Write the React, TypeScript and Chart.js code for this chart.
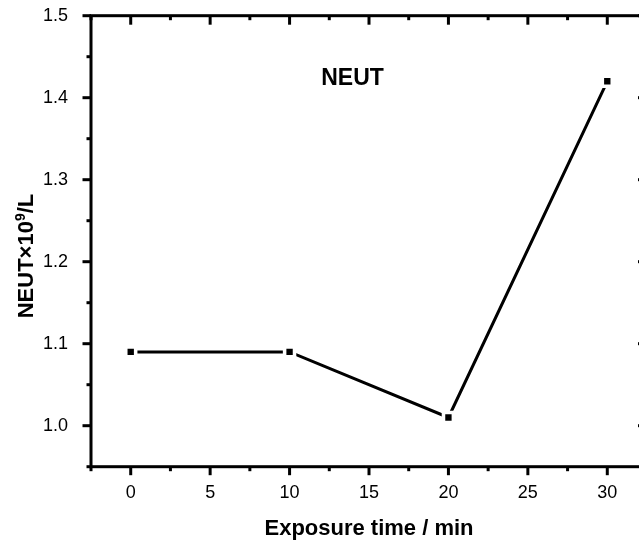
import React, { useEffect, useRef } from "react";
import { Chart, registerables } from "chart.js";

Chart.register(...registerables);

const exposureTimes = [0, 10, 20, 30];
const neutValues = [1.09, 1.09, 1.01, 1.42];
const xMajorTicks = [0, 5, 10, 15, 20, 25, 30];
const xMinorTicks = [-2.5, 2.5, 7.5, 12.5, 17.5, 22.5, 27.5, 32.5];
const yMajorTicks = [1.0, 1.1, 1.2, 1.3, 1.4, 1.5];
const yMinorTicks = [0.95, 1.05, 1.15, 1.25, 1.35, 1.45];
const xRange = [-2.5, 32.5];
const yRange = [0.95, 1.5];
const xTitle = "Exposure time / min";
const yTitleParts = ["NEUT×10", "9", "/L"];
const panelLabel = "NEUT";

const FONT = "'Liberation Sans', Arial, sans-serif";

const framePlugin = {
  id: "frame",
  afterDraw(chart: any) {
    const { ctx, chartArea: a, scales } = chart;
    const xs = scales.x;
    const ys = scales.y;
    ctx.save();
    ctx.strokeStyle = "#000";
    ctx.lineCap = "butt";
    const seg = (x1: number, y1: number, x2: number, y2: number, w: number) => {
      ctx.lineWidth = w;
      ctx.beginPath();
      ctx.moveTo(x1, y1);
      ctx.lineTo(x2, y2);
      ctx.stroke();
    };
    xMajorTicks.forEach((v) => {
      const p = xs.getPixelForValue(v);
      seg(p, a.bottom, p, a.bottom + 8.5, 3);
      seg(p, a.top, p, a.top + 9, 3);
    });
    xMinorTicks.forEach((v) => {
      const p = xs.getPixelForValue(v);
      seg(p, a.bottom, p, a.bottom + 4.5, 3);
      seg(p, a.top, p, a.top + 4.5, 3);
    });
    yMajorTicks.forEach((v) => {
      const p = ys.getPixelForValue(v);
      seg(a.left, p, a.left - 8.5, p, 3);
      seg(a.right, p, a.right - 9, p, 3);
    });
    yMinorTicks.forEach((v) => {
      const p = ys.getPixelForValue(v);
      seg(a.left, p, a.left - 4.5, p, 3);
      seg(a.right, p, a.right - 4.5, p, 3);
    });
    ctx.lineWidth = 3;
    ctx.strokeRect(a.left, a.top, a.right - a.left, a.bottom - a.top);
    ctx.restore();
  },
};

const textPlugin = {
  id: "texts",
  afterDraw(chart: any) {
    const { ctx, chartArea: a } = chart;
    ctx.save();
    ctx.fillStyle = "#000";
    ctx.font = `bold 22px ${FONT}`;
    ctx.textAlign = "center";
    ctx.textBaseline = "alphabetic";
    ctx.fillText(xTitle, (a.left + a.right) / 2, 535);
    ctx.font = `bold 23px ${FONT}`;
    ctx.fillText(panelLabel, 352.5, 85);
    ctx.translate(33, 256);
    ctx.rotate(-Math.PI / 2);
    ctx.textAlign = "left";
    const big = `bold 22px ${FONT}`;
    const small = `bold 14px ${FONT}`;
    ctx.font = big;
    const w0 = ctx.measureText(yTitleParts[0]).width;
    const w2 = ctx.measureText(yTitleParts[2]).width;
    ctx.font = small;
    const w1 = ctx.measureText(yTitleParts[1]).width;
    let x = -(w0 + w1 + w2) / 2;
    ctx.font = big;
    ctx.fillText(yTitleParts[0], x, 0);
    x += w0;
    ctx.font = small;
    ctx.fillText(yTitleParts[1], x, -8);
    x += w1;
    ctx.font = big;
    ctx.fillText(yTitleParts[2], x, 0);
    ctx.restore();
  },
};

export default function App() {
  const ref = useRef<HTMLCanvasElement | null>(null);
  useEffect(() => {
    if (!ref.current) return;
    const points = exposureTimes.map((t, i) => ({ x: t, y: neutValues[i] }));
    const chart = new Chart(ref.current, {
      type: "scatter",
      data: {
        datasets: [
          {
            data: points,
            showLine: false,
            pointStyle: "rect",
            pointRadius: 4.5,
            pointBackgroundColor: "#000",
            pointBorderWidth: 0,
            order: 0,
          },
          {
            data: points,
            showLine: true,
            borderColor: "#000",
            borderWidth: 3,
            pointStyle: "rect",
            pointRadius: 9.5,
            pointBackgroundColor: "#fff",
            pointBorderWidth: 0,
            order: 1,
          },
        ],
      },
      options: {
        animation: false,
        responsive: false,
        devicePixelRatio: 1,
        layout: { padding: { left: 0, top: 15.7, right: 33, bottom: 0 } },
        plugins: {
          legend: { display: false },
          tooltip: { enabled: false },
          title: { display: false },
        },
        scales: {
          x: {
            type: "linear",
            min: xRange[0],
            max: xRange[1],
            grid: { display: false },
            border: { display: false },
            afterBuildTicks: (s: any) => {
              s.ticks = xMajorTicks.map((v) => ({ value: v }));
            },
            afterFit: (s: any) => {
              s.height = 77.3;
              s.paddingLeft = 0;
              s.paddingRight = 0;
            },
            ticks: {
              padding: 8,
              color: "#000",
              maxRotation: 0,
              font: { family: FONT, size: 18 },
              callback: (v: any) => String(v),
            },
          },
          y: {
            type: "linear",
            min: yRange[0],
            max: yRange[1],
            grid: { display: false },
            border: { display: false },
            afterBuildTicks: (s: any) => {
              s.ticks = yMajorTicks.map((v) => ({ value: v }));
            },
            afterFit: (s: any) => {
              s.width = 91;
              s.paddingTop = 0;
              s.paddingBottom = 0;
            },
            ticks: {
              padding: 15,
              color: "#000",
              font: { family: FONT, size: 18 },
              callback: (v: any) => Number(v).toFixed(1),
            },
          },
        },
      },
      plugins: [framePlugin, textPlugin],
    });
    return () => chart.destroy();
  }, []);
  return (
    <div
      style={{
        position: "fixed",
        left: 0,
        top: 0,
        width: 639,
        height: 544,
        overflow: "hidden",
        background: "#fff",
      }}
    >
      <canvas ref={ref} width={680} height={544} style={{ display: "block", width: 680, height: 544 }} />
    </div>
  );
}
